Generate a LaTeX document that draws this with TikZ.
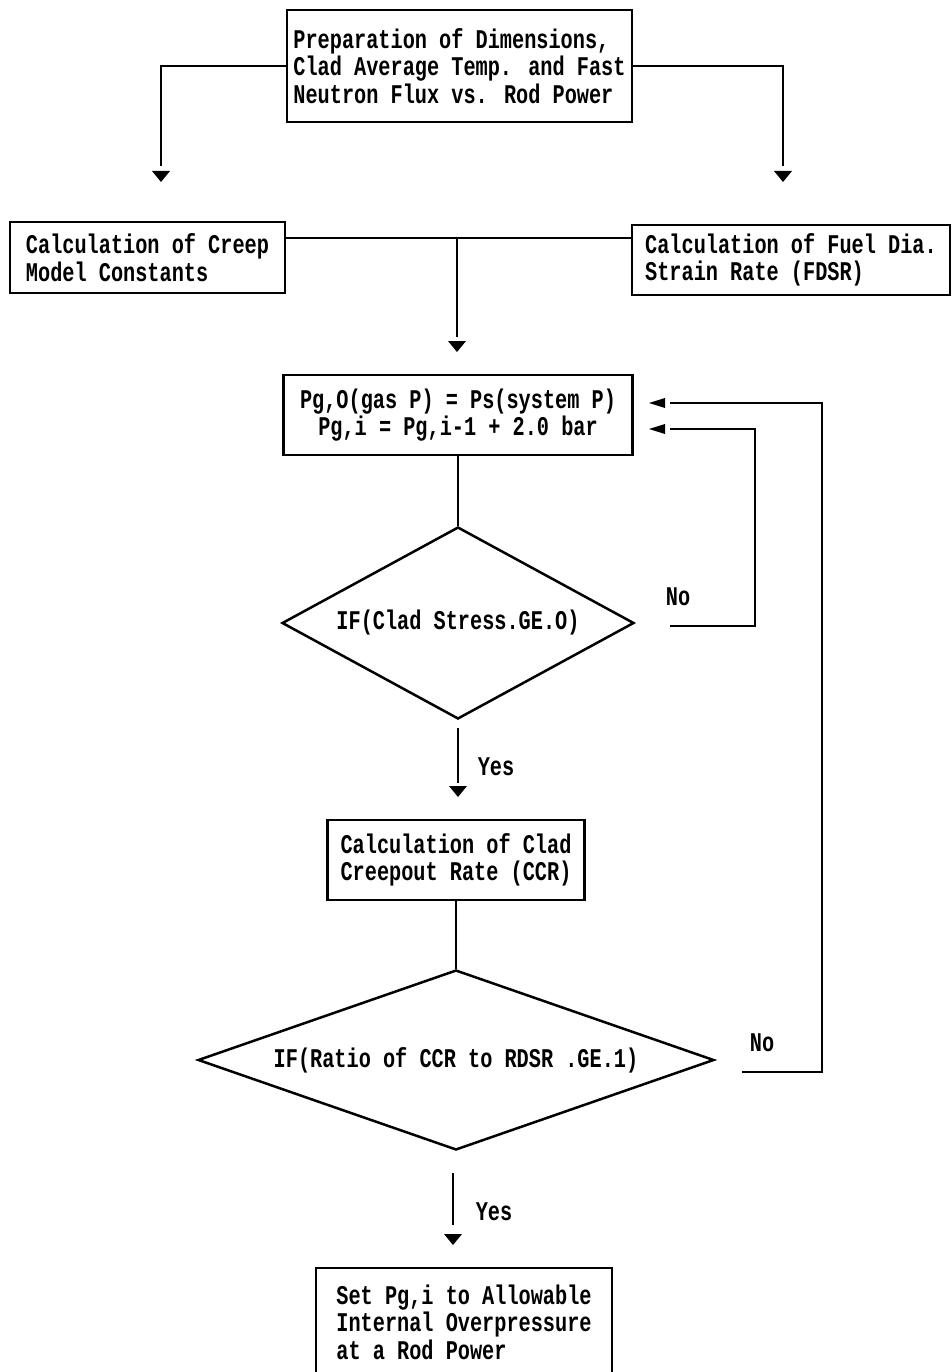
\documentclass[tikz,border=0pt]{standalone}
\usepackage{fontspec}
\newfontfamily\fcmono[FakeStretch=0.75]{Liberation Mono}
\usetikzlibrary{shapes.geometric}
\newcommand\mydtip[1]{\fill (#1) -- ++(-9,-11) -- ++(18,0) -- cycle;}
\newcommand\myltip[1]{\fill (#1) -- ++(16,-5) -- ++(0,10) -- cycle;}
\begin{document}
\begin{tikzpicture}[x=1pt,y=-1pt,line width=2.5pt,
  txt/.style={font={\fcmono\bfseries\fontsize{27}{27.5}\selectfont}},
  box/.style={txt,draw,rectangle,inner sep=0pt,align=left},
  cbox/.style={txt,draw,rectangle,inner sep=0pt,align=center},
  dec/.style={txt,draw,diamond,inner sep=0pt},
  lbl/.style={txt,inner sep=0pt}]
\useasboundingbox (0,0) rectangle (952,1372);
\fill[white] (0,0) rectangle (952,1372);
\clip (0,0) rectangle (952,1372);

\node[box,minimum width=345pt,minimum height=112pt] (prep) at (459.5,66)
  {Preparation of Dimensions,\\Clad Average Temp. and Fast\\Neutron Flux vs. Rod Power};
\node[box,minimum width=275pt,minimum height=71pt] (creep) at (147.5,257.5)
  {Calculation of Creep\\Model Constants};
\node[box,minimum width=318pt,minimum height=70pt] (fdsr) at (791,260)
  {Calculation of Fuel Dia.\\Strain Rate (FDSR)};
\node[cbox,minimum width=349pt,minimum height=80pt] (pg) at (458,415)
  {Pg,O(gas P) = Ps(system P)\\Pg,i = Pg,i-1 + 2.0 bar};
\node[dec,minimum width=352pt,minimum height=192pt,aspect=1.83] (d1) at (458,623)
  {IF(Clad Stress.GE.O)};
\node[box,minimum width=257pt,minimum height=80pt] (ccr) at (456,860)
  {Calculation of Clad\\Creepout Rate (CCR)};
\node[dec,minimum width=516pt,minimum height=180pt,aspect=2.87] (d2) at (456,1060)
  {IF(Ratio of CCR to RDSR .GE.1)};
\node[box,minimum width=296pt,minimum height=108pt] (set) at (464,1322)
  {Set Pg,i to Allowable\\Internal Overpressure\\at a Rod Power};

\node[lbl] (no1) at (678,597) {No};
\node[lbl] (no2) at (762,1043) {No};
\node[lbl] (yes1) at (496,767) {Yes};
\node[lbl] (yes2) at (494,1212) {Yes};

% top fan-out
\coordinate (lend) at (161,166);
\coordinate (rend) at (783,166);
\draw (prep.west) -| (lend);
\draw (prep.east) -| (rend);
\mydtip{161,182}
\mydtip{783,182}

% join of creep and fdsr
\coordinate (jn) at (457,238);
\coordinate (jend) at (457,337);
\draw (creep.east |- jn) -- (fdsr.west |- jn);
\draw (jn) -- (jend);
\mydtip{457,352}

% pg to d1
\draw (pg.south) -- (d1.north);

% yes 1
\coordinate (y1s) at (458,728);
\coordinate (y1e) at (458,783);
\draw (y1s) -- (y1e);
\mydtip{458,797}

% ccr to d2
\draw (ccr.south) -- (d2.north);

% yes 2
\coordinate (y2s) at (453,1173);
\coordinate (y2e) at (453,1225);
\draw (y2s) -- (y2e);
\mydtip{453,1245}

% no loops
\coordinate (n1s) at (670,626);
\coordinate (n1e) at (670,429);
\draw (n1s) -- (755,626) -- (755,429) -- (n1e);
\myltip{649,429}
\coordinate (n2s) at (742,1072);
\coordinate (n2e) at (670,403);
\draw (n2s) -- (822,1072) -- (822,403) -- (n2e);
\myltip{649,403}
\end{tikzpicture}
\end{document}
